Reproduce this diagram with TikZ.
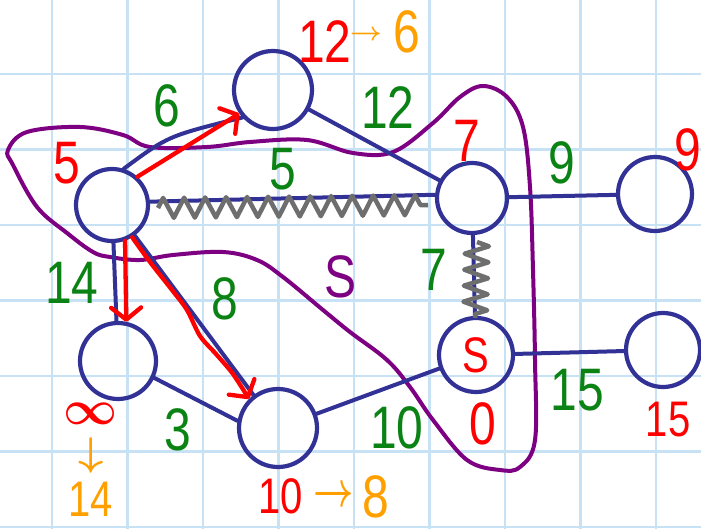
\documentclass[tikz,border=0pt]{standalone}
\usepackage{fontspec}
\usepackage{graphicx}
\setmainfont{Liberation Sans}
\usetikzlibrary{arrows.meta,decorations.pathmorphing,calc}
\definecolor{gridblue}{RGB}{200,226,245}
\definecolor{navy}{RGB}{50,50,150}
\definecolor{hred}{RGB}{255,0,0}
\definecolor{hgreen}{RGB}{10,130,20}
\definecolor{horange}{RGB}{255,160,0}
\definecolor{hpurple}{RGB}{125,0,130}
\definecolor{hgray}{RGB}{110,110,110}
\newcommand\hw[1]{\scalebox{0.8}[1]{#1}}
\begin{document}
\begin{tikzpicture}[x=1pt,y=-1pt,
  vertex/.style={circle,draw=navy,line width=4.2pt,inner sep=0pt,minimum size=#1},
  vertex/.default=74,
  edge/.style={draw=navy,line width=4pt,line cap=round},
  redarrow/.style={draw=hred,line width=4.3pt,line cap=round,line join=round,
    -{Straight Barb[length=12pt,width=30pt,line cap=round,line join=round]}},
  zig/.style={draw=hgray,line width=4.5pt,line join=round,decorate},
  cut/.style={draw=hpurple,line width=4pt},
  lab/.style={inner sep=0pt,font=\fontsize{60}{60}\selectfont},
  slab/.style={inner sep=0pt,font=\fontsize{50}{50}\selectfont},
  wlab/.style={lab,text=hgreen},
  dlab/.style={lab,text=hred},
  olab/.style={lab,text=horange},
  symlab/.style={inner sep=0pt,font=\normalsize\boldmath}
]
\useasboundingbox (0,0) rectangle (701,529);
\fill[white] (0,0) rectangle (701,529);
% grid
\foreach \i in {0,...,8} \draw[gridblue,line width=2.6pt] ({52+75.5*\i},0) -- ({52+75.5*\i},529);
\foreach \j in {0,...,6} \draw[gridblue,line width=2.6pt] (0,{74+75.5*\j}) -- (701,{74+75.5*\j});

% nodes
\node[vertex=72] (A) at (112,205) {};
\node[vertex=78] (B) at (273,90) {};
\node[vertex=70] (C) at (472,198) {};
\node[vertex=74] (D) at (655,194) {};
\node[vertex=74,text=hred,font=\fontsize{50}{50}\selectfont] (E) at (476,355) {\hw{S}};
\node[vertex=74] (F) at (663,350) {};
\node[vertex=76] (G) at (118,361) {};
\node[vertex=78] (H) at (278,428) {};

% cut
\draw[cut] plot[smooth cycle,tension=0.6] coordinates {
 (8,150) (27,132) (80,127) (123,135) (150,147) (207,147) (250,142) (307,140)
 (353,153) (393,152) (433,123) (460,97) (483,86) (507,97) (523,127) (530,187)
 (533,270) (535,360) (535,440) (520,467) (500,470) (467,460) (433,420) (410,387)
 (387,360) (350,332) (323,310) (283,277) (257,260) (223,252) (173,255) (140,260)
 (110,257) (93,252) (67,233) (37,207) (13,165)};

% edges
\draw[edge] (A.72) .. controls (168,136) .. (B.222);
\draw[edge] (A.5) -- (C.175);
\draw[edge] (B) -- (C);
\draw[edge] (C) -- (D);
\draw[edge] (C) -- (E);
\draw[edge] (E) -- (F);
\draw[edge] (E) -- (H);
\draw[edge] (A) -- (G);
\draw[edge] (A) -- (H);
\draw[edge] (G.-25) -- (H.170);

% zigzags
\draw[zig,decoration={zigzag,segment length=21pt,amplitude=10pt}] (158,208) -- (428,205);
\draw[zig,decoration={zigzag,segment length=16pt,amplitude=12pt}] (477,242) -- (475,318);

% red tree arrows
\draw[redarrow] (A.48) -- (B.215);
\draw[redarrow] (A.-70) -- (G.78);
\draw[redarrow] plot[smooth,tension=0.5] coordinates {(A.-58) (150,262) (172,290) (187,310) (200,336) (216,354) (233,374) (H.135)};

% edge weights
\node[wlab] (w1) at (167,106) {\hw{6}};
\node[wlab] (w2) at (283,169) {\hw{5}};
\node[wlab] (w3) at (388,108) {\hw{12}};
\node[wlab] (w4) at (562,163) {\hw{9}};
\node[wlab] (w5) at (72,283) {\hw{14}};
\node[wlab] (w6) at (225,299) {\hw{8}};
\node[wlab] (w7) at (434,270) {\hw{7}};
\node[wlab] (w8) at (178,430) {\hw{3}};
\node[wlab] (w9) at (397,428) {\hw{10}};
\node[wlab] (w10) at (577,390) {\hw{15}};

% distances
\node[dlab] (d1) at (67,163) {\hw{5}};
\node[dlab] (d2) at (325,42) {\hw{12}};
\node[symlab,text=horange] (a2) at (366,35) {\scalebox{2.8}[2.6]{$\rightarrow$}};
\node[olab] (o2) at (407,32) {\hw{6}};
\node[dlab] (d3) at (467,141) {\hw{7}};
\node[dlab] (d4) at (688,150) {\hw{9}};
\node[dlab] (d5) at (483,424) {\hw{0}};
\node[slab,text=hred] (d6) at (668,420) {\hw{15}};
\node[symlab,text=hred] (d7) at (91,414) {\scalebox{4.7}[4.8]{$\infty$}};
\node[symlab,text=horange] (a7) at (91,455) {\scalebox{4.4}[4.0]{$\downarrow$}};
\node[slab,text=horange] (o7) at (91,499) {\hw{14}};
\node[slab,text=hred] (d8) at (281,496) {\hw{10}};
\node[symlab,text=horange] (a8) at (334,497) {\scalebox{3.5}[5]{$\rightarrow$}};
\node[olab] (o8) at (376,497) {\hw{8}};

% set label
\node[lab,text=hpurple] (s) at (341,277) {\hw{S}};
\end{tikzpicture}
\end{document}
